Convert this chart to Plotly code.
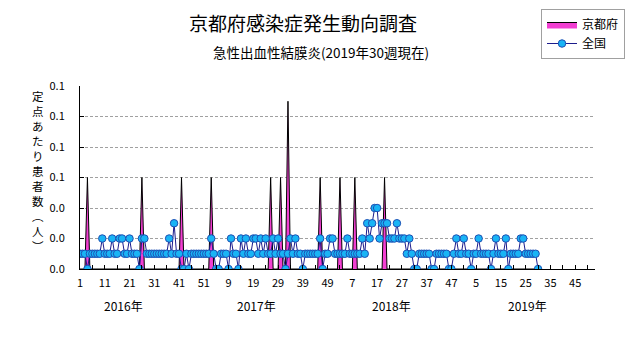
import plotly.graph_objects as go

# ---------------- data ----------------
years = [2016, 2017, 2018, 2019]
weeks_in_year = [52, 52, 52, 30]

national_2016 = [0.01, 0.01, 0.01, 0.00, 0.01, 0.01, 0.01, 0.01, 0.01, 0.02, 0.01, 0.01, 0.01,
                 0.02, 0.01, 0.01, 0.02, 0.02, 0.01, 0.01, 0.02, 0.01, 0.01, 0.01, 0.00, 0.02,
                 0.02, 0.01, 0.01, 0.01, 0.01, 0.01, 0.01, 0.01, 0.01, 0.01, 0.02, 0.01, 0.03,
                 0.01, 0.01, 0.00, 0.00, 0.01, 0.00, 0.01, 0.01, 0.01, 0.01, 0.01, 0.01, 0.01]
national_2017 = [0.01, 0.02, 0.01, 0.00, 0.00, 0.01, 0.01, 0.01, 0.00, 0.02, 0.01, 0.01, 0.00,
                 0.02, 0.01, 0.02, 0.01, 0.01, 0.02, 0.02, 0.01, 0.02, 0.01, 0.02, 0.01, 0.01,
                 0.02, 0.01, 0.02, 0.01, 0.01, 0.00, 0.01, 0.02, 0.01, 0.02, 0.01, 0.01, 0.00,
                 0.01, 0.01, 0.01, 0.01, 0.01, 0.01, 0.02, 0.00, 0.01, 0.01, 0.02, 0.02, 0.01]
national_2018 = [0.01, 0.01, 0.01, 0.01, 0.02, 0.01, 0.01, 0.01, 0.01, 0.01, 0.02, 0.01, 0.03,
                 0.02, 0.03, 0.04, 0.04, 0.02, 0.03, 0.03, 0.03, 0.02, 0.02, 0.02, 0.03, 0.02,
                 0.02, 0.02, 0.01, 0.02, 0.01, 0.00, 0.00, 0.01, 0.01, 0.01, 0.01, 0.01, 0.00,
                 0.00, 0.01, 0.01, 0.01, 0.01, 0.01, 0.00, 0.00, 0.01, 0.02, 0.01, 0.01, 0.02]
national_2019 = [0.01, 0.01, 0.00, 0.01, 0.01, 0.02, 0.01, 0.01, 0.01, 0.01, 0.00, 0.01, 0.02,
                 0.01, 0.01, 0.01, 0.02, 0.00, 0.01, 0.01, 0.01, 0.01, 0.02, 0.02, 0.01, 0.01,
                 0.01, 0.01, 0.01, 0.00]

kyoto_2016 = [0.00, 0.00, 0.00, 0.06, 0.00, 0.00, 0.00, 0.00, 0.00, 0.00, 0.00, 0.00, 0.00,
              0.00, 0.00, 0.00, 0.00, 0.00, 0.00, 0.00, 0.00, 0.00, 0.00, 0.00, 0.00, 0.06,
              0.00, 0.00, 0.00, 0.00, 0.00, 0.00, 0.00, 0.00, 0.00, 0.00, 0.00, 0.00, 0.00,
              0.00, 0.00, 0.06, 0.00, 0.00, 0.00, 0.00, 0.00, 0.00, 0.00, 0.00, 0.00, 0.00]
kyoto_2017 = [0.00, 0.06, 0.00, 0.00, 0.00, 0.00, 0.00, 0.00, 0.00, 0.00, 0.00, 0.00, 0.00,
              0.00, 0.00, 0.00, 0.00, 0.00, 0.00, 0.00, 0.00, 0.00, 0.00, 0.00, 0.00, 0.06,
              0.00, 0.00, 0.00, 0.06, 0.00, 0.00, 0.11, 0.00, 0.00, 0.00, 0.00, 0.00, 0.00,
              0.00, 0.00, 0.00, 0.00, 0.00, 0.00, 0.06, 0.00, 0.00, 0.00, 0.00, 0.00, 0.00]
kyoto_2018 = [0.00, 0.06, 0.00, 0.00, 0.00, 0.00, 0.00, 0.06, 0.00, 0.00, 0.00, 0.00, 0.00,
              0.00, 0.00, 0.00, 0.00, 0.00, 0.00, 0.06, 0.00, 0.00, 0.00, 0.00, 0.00, 0.00,
              0.00, 0.00, 0.00, 0.00, 0.00, 0.00, 0.00, 0.00, 0.00, 0.00, 0.00, 0.00, 0.00,
              0.00, 0.00, 0.00, 0.00, 0.00, 0.00, 0.00, 0.00, 0.00, 0.00, 0.00, 0.00, 0.00]
kyoto_2019 = [0.00, 0.00, 0.00, 0.00, 0.00, 0.00, 0.00, 0.00, 0.00, 0.00, 0.00, 0.00, 0.00,
              0.00, 0.00, 0.00, 0.00, 0.00, 0.00, 0.00, 0.00, 0.00, 0.00, 0.00, 0.00, 0.00,
              0.00, 0.00, 0.00, 0.00]

x_tick_positions = [1, 11, 21, 31, 41, 51, 61, 71, 81, 91, 101, 111, 121, 131, 141,
                    151, 161, 171, 181, 191, 201]
x_tick_labels = ["1", "11", "21", "31", "41", "51", "9", "19", "29", "39", "49",
                 "7", "17", "27", "37", "47", "5", "15", "25", "35", "45"]
y_tick_values = [0.0, 0.02, 0.04, 0.06, 0.08, 0.10, 0.12]
y_tick_labels = ["0.0", "0.0", "0.0", "0.1", "0.1", "0.1", "0.1"]
year_labels = ["2016年", "2017年", "2018年", "2019年"]

title_text = "京都府感染症発生動向調査"
subtitle_text = "急性出血性結膜炎(2019年30週現在)"
ytitle_chars = ["定", "点", "あ", "た", "り", "患", "者", "数", "︵", "人", "︶"]

# ---------------- build ----------------
national = national_2016 + national_2017 + national_2018 + national_2019
kyoto = kyoto_2016 + kyoto_2017 + kyoto_2018 + kyoto_2019
x_idx = list(range(1, sum(weeks_in_year) + 1))

FONT = "Noto Sans CJK JP"

W, H = 631, 347
L, R, T, B = 80, 36, 86, 78
pw = W - L - R
ph = H - T - B


def px2paper(px, py):
    return (px - L) / pw, (H - B - py) / ph


fig = go.Figure()
fig.add_trace(go.Scatter(
    x=x_idx, y=kyoto, name="京都府", mode="lines",
    fill="tozeroy", fillcolor="#F23FD2",
    line=dict(color="#000000", width=1),
))
fig.add_trace(go.Scatter(
    x=x_idx, y=national, name="全国", mode="lines+markers",
    line=dict(color="#1C1C8C", width=1),
    marker=dict(size=7.5, color="#19B4F5", line=dict(color="#1E50B4", width=1)),
))

annotations = []
tx, ty = px2paper(303, 22)
annotations.append(dict(text=title_text, x=tx, y=ty, xref="paper", yref="paper",
                        showarrow=False, xanchor="center", yanchor="middle",
                        font=dict(family=FONT, size=19, color="#000000")))
sx, sy = px2paper(321, 52)
annotations.append(dict(text=subtitle_text, x=sx, y=sy, xref="paper", yref="paper",
                        showarrow=False, xanchor="center", yanchor="middle",
                        font=dict(family=FONT, size=13.5, color="#000000")))
cx, cy = px2paper(38, 86)
annotations.append(dict(text="<br>".join(ytitle_chars), x=cx, y=cy, xref="paper", yref="paper",
                        showarrow=False, xanchor="center", yanchor="top", align="center",
                        font=dict(family=FONT, size=11.5, color="#000000")))
for lab, pxx in zip(year_labels, [123, 256, 391, 527]):
    cx, cy = px2paper(pxx, 305)
    annotations.append(dict(text=lab, x=cx, y=cy, xref="paper", yref="paper",
                            showarrow=False, xanchor="center", yanchor="middle",
                            font=dict(family=FONT, size=12, color="#000000")))

lx, ly = px2paper(541, 9)

fig.update_layout(
    width=W, height=H,
    margin=dict(l=L, r=R, t=T, b=B, pad=0, autoexpand=False),
    paper_bgcolor="white", plot_bgcolor="white",
    font=dict(family=FONT, size=11, color="#000000"),
    showlegend=True,
    legend=dict(x=lx, y=ly, xanchor="left", yanchor="top",
                bordercolor="#A0A0A0", borderwidth=1, bgcolor="white",
                font=dict(family=FONT, size=12), itemwidth=30,
                tracegroupgap=0),
    annotations=annotations,
    xaxis=dict(range=[1, 209], tickmode="array", tickvals=x_tick_positions,
               ticktext=x_tick_labels, ticks="inside", ticklen=4, tickcolor="#000000",
               showline=True, linecolor="#000000", linewidth=1, showgrid=False,
               zeroline=False, ticklabelstandoff=4,
               minor=dict(tick0=1, dtick=5, ticks="inside", ticklen=4,
                          tickcolor="#000000", showgrid=False),
               tickfont=dict(family=FONT, size=11)),
    yaxis=dict(range=[0, 0.12], tickmode="array", tickvals=y_tick_values,
               ticktext=y_tick_labels, ticks="inside", ticklen=4, tickcolor="#000000",
               showline=True, linecolor="#000000", linewidth=1,
               showgrid=True, gridcolor="#A0A0A0", griddash="3px,2px", gridwidth=1,
               zeroline=False, ticklabelstandoff=12,
               tickfont=dict(family=FONT, size=11)),
)

fig.write_html("out.html")
